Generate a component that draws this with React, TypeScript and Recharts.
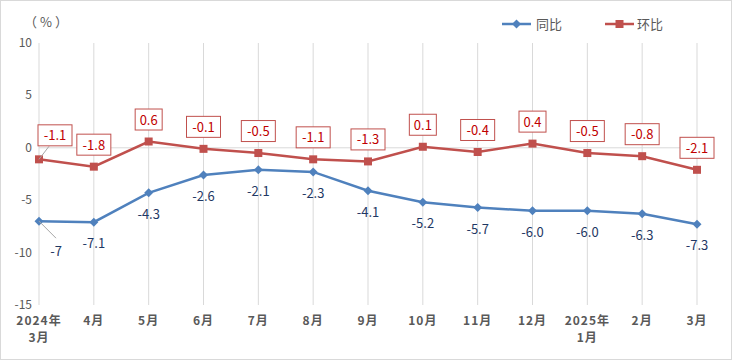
import React from "react";
import {
  LineChart,
  Line,
  XAxis,
  YAxis,
  CartesianGrid,
  ReferenceLine,
  LabelList,
} from "recharts";

const months = [
  "2024年|3月",
  "4月",
  "5月",
  "6月",
  "7月",
  "8月",
  "9月",
  "10月",
  "11月",
  "12月",
  "2025年|1月",
  "2月",
  "3月",
];
const yoy = [-7, -7.1, -4.3, -2.6, -2.1, -2.3, -4.1, -5.2, -5.7, -6.0, -6.0, -6.3, -7.3];
const mom = [-1.1, -1.8, 0.6, -0.1, -0.5, -1.1, -1.3, 0.1, -0.4, 0.4, -0.5, -0.8, -2.1];
const yTicks = [-15, -10, -5, 0, 5, 10];
const yoyLabels = ["-7", "-7.1", "-4.3", "-2.6", "-2.1", "-2.3", "-4.1", "-5.2", "-5.7", "-6.0", "-6.0", "-6.3", "-7.3"];
const momLabels = ["-1.1", "-1.8", "0.6", "-0.1", "-0.5", "-1.1", "-1.3", "0.1", "-0.4", "0.4", "-0.5", "-0.8", "-2.1"];

const data = months.map((m, i) => ({ name: m, yoy: yoy[i], mom: mom[i] }));

const BLUE = "#4f81bd";
const RED = "#c0504d";
const FONT = "'Noto Sans CJK SC', 'Noto Sans', sans-serif";

function XTick(props: any) {
  const { x, y, payload } = props;
  const lines = String(payload.value).split("|");
  return (
    <g>
      {lines.map((t, i) => (
        <text
          key={i}
          x={x}
          y={y + 12 + i * 17}
          textAnchor="middle"
          fontSize={12}
          fontWeight="bold"
          fill="#595959"
          letterSpacing={1}
          fontFamily={FONT}
        >
          {t}
        </text>
      ))}
    </g>
  );
}

function YTick(props: any) {
  const { y, payload } = props;
  return (
    <text x={31} y={y + 4} textAnchor="end" fontSize={12} fill="#595959" fontFamily={FONT}>
      {payload.value}
    </text>
  );
}

function SquareDot(props: any) {
  const { cx, cy, index } = props;
  return <rect key={`s${index}`} x={cx - 4} y={cy - 4} width={8} height={8} fill={RED} />;
}

function DiamondDot(props: any) {
  const { cx, cy, index } = props;
  return (
    <path
      key={`d${index}`}
      d={`M${cx},${cy - 4.5} L${cx + 4.5},${cy} L${cx},${cy + 4.5} L${cx - 4.5},${cy} Z`}
      fill={BLUE}
    />
  );
}

function MomLabel(props: any) {
  const { x, y, index } = props;
  const text = momLabels[index];
  const w = text.length * 7 + 6;
  const h = 21;
  let cx = x;
  let cy = y - 22;
  if (index === 0) {
    cx = x + 16;
    cy = y - 24;
  }
  return (
    <g>
      {index === 0 && <line x1={x} y1={y} x2={x + 10} y2={y - 13} stroke="#a6a6a6" strokeWidth={1} />}
      <rect x={cx - w / 2} y={cy - h / 2} width={w} height={h} fill="#fff" stroke={RED} strokeWidth={1} />
      <text x={cx} y={cy + 5} textAnchor="middle" fontSize={13} fill="#c00000" fontFamily={FONT}>
        {text}
      </text>
    </g>
  );
}

function YoyLabel(props: any) {
  const { x, y, index } = props;
  const text = yoyLabels[index];
  let cx = x;
  let cy = y + 21;
  if (index === 0) {
    cx = x + 17;
    cy = y + 30;
  }
  return (
    <g>
      {index === 0 && <line x1={x} y1={y} x2={x + 17} y2={y + 17} stroke="#a6a6a6" strokeWidth={1} />}
      <text x={cx} y={cy + 5} textAnchor="middle" fontSize={13} fill="#1f3864" fontFamily={FONT}>
        {text}
      </text>
    </g>
  );
}

export default function App() {
  return (
    <div
      style={{
        position: "absolute",
        left: 0,
        top: 0,
        width: 732,
        height: 360,
        boxSizing: "border-box",
        border: "1px solid #d9d9d9",
        background: "#fff",
        fontFamily: FONT,
      }}
    >
      <div style={{ position: "absolute", left: 23, top: 11, fontSize: 13, color: "#595959", letterSpacing: 3 }}>（%）</div>
      <svg style={{ position: "absolute", left: 0, top: 0 }} width={732} height={40}>
        <line x1={501} y1={23} x2={530} y2={23} stroke={BLUE} strokeWidth={2.5} />
        <path d="M515.5,18.5 L520,23 L515.5,27.5 L511,23 Z" fill={BLUE} />
        <text x={535} y={28} fontSize={13} fill="#595959" fontFamily={FONT}>同比</text>
        <line x1={604} y1={23} x2={633} y2={23} stroke={RED} strokeWidth={2.5} />
        <rect x={614.5} y={19} width={8} height={8} fill={RED} />
        <text x={636} y={28} fontSize={13} fill="#595959" fontFamily={FONT}>环比</text>
      </svg>
      <LineChart
        width={730}
        height={358}
        data={data}
        margin={{ top: 42, right: 34, bottom: 0, left: 0 }}
        style={{ position: "absolute", left: 0, top: 0 }}
      >
        <CartesianGrid horizontal={false} vertical stroke="#d9d9d9" />
        <XAxis
          dataKey="name"
          height={54}
          axisLine={false}
          tickLine={false}
          interval={0}
          tick={<XTick />}
          padding={{ left: 0, right: 0 }}
        />
        <YAxis
          width={38}
          domain={[-15, 10]}
          ticks={yTicks}
          axisLine={false}
          tickLine={false}
          tick={<YTick />}
          interval={0}
        />
        <ReferenceLine y={0} stroke="#d9d9d9" />
        <Line
          dataKey="yoy"
          stroke={BLUE}
          strokeWidth={2.5}
          dot={DiamondDot}
          isAnimationActive={false}
        >
          <LabelList dataKey="yoy" content={YoyLabel} />
        </Line>
        <Line
          dataKey="mom"
          stroke={RED}
          strokeWidth={2.5}
          dot={SquareDot}
          isAnimationActive={false}
        >
          <LabelList dataKey="mom" content={MomLabel} />
        </Line>
      </LineChart>
    </div>
  );
}
